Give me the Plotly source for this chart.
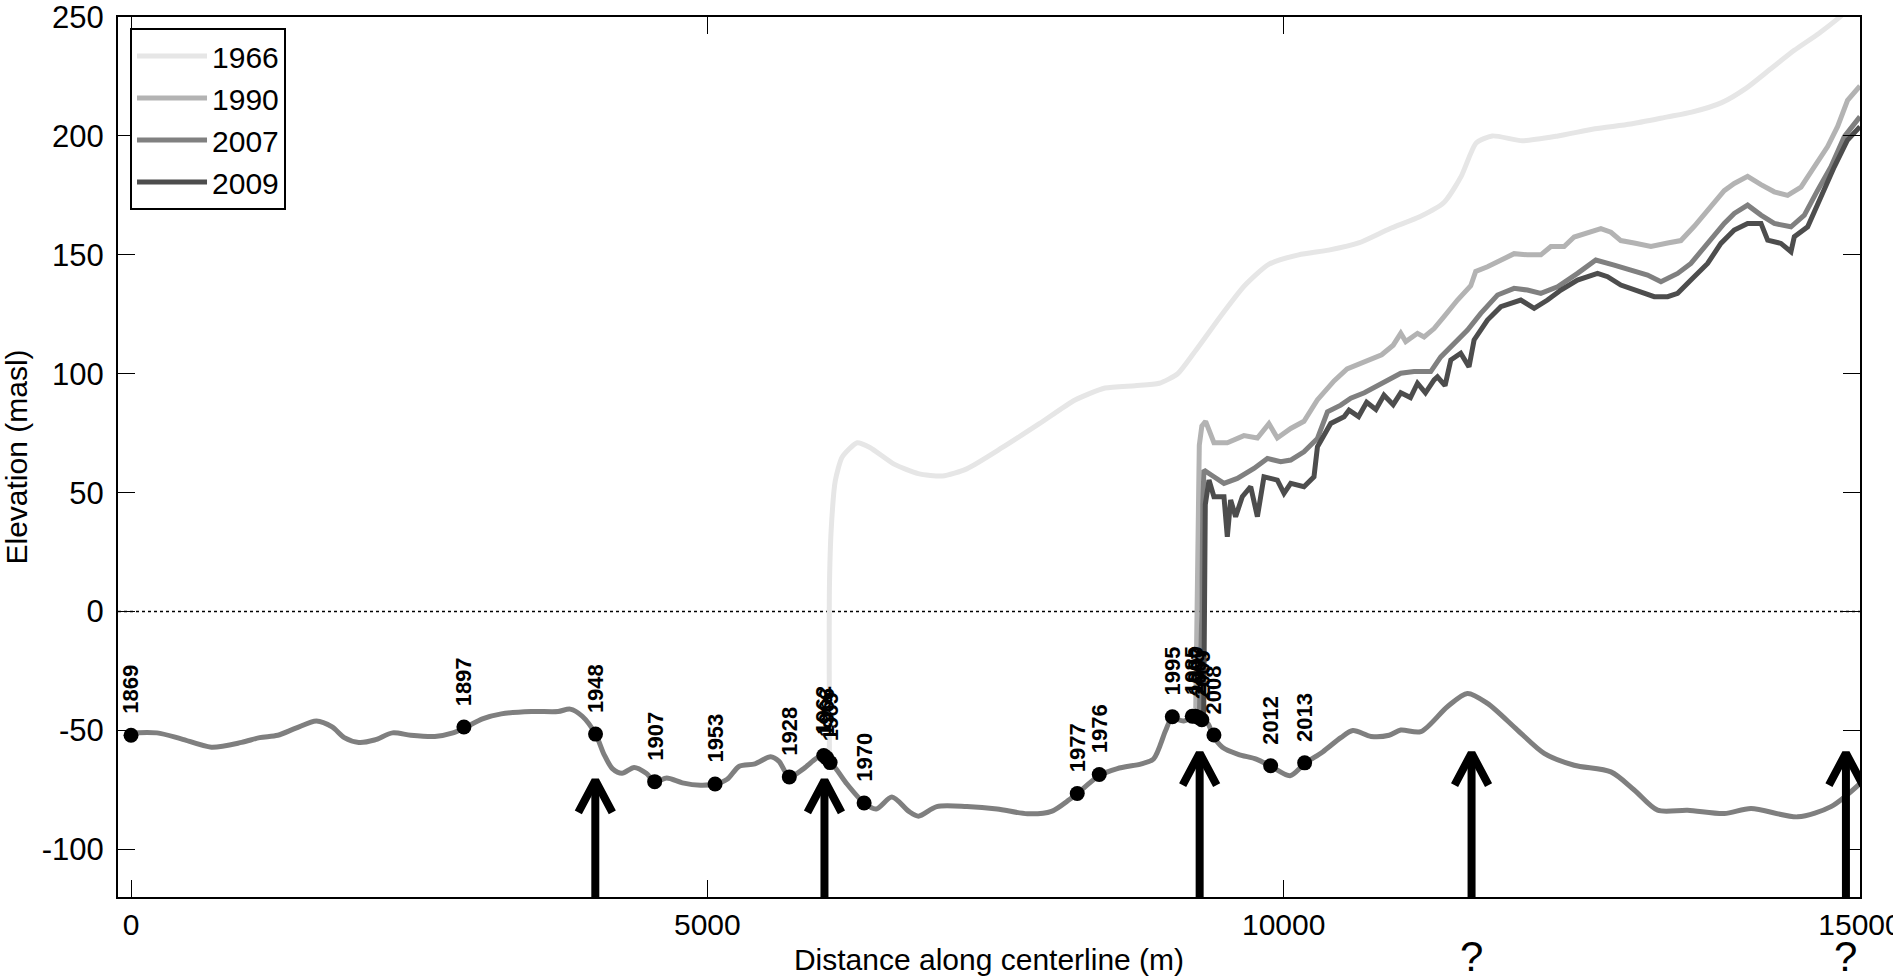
import plotly.graph_objects as go

# ---------------- data ----------------
bed_x = [0, 226, 435, 697, 959, 1116, 1273, 1430, 1609, 1745, 1850, 1976, 2112, 2269, 2426, 2636,
         2793, 2888, 3055, 3212, 3474, 3705, 3810, 3915, 4030, 4103, 4176, 4260, 4365, 4470, 4543,
         4648, 4784, 4941, 5067, 5172, 5277, 5413, 5549, 5622, 5711, 5836, 5993, 6098, 6203, 6360,
         6465, 6601, 6748, 6832, 6990, 7252, 7514, 7776, 7985, 8142, 8209, 8400, 8557, 8766, 8871,
         8976, 9028, 9133, 9238, 9342, 9385, 9468, 9605, 9762, 9888, 10055, 10181, 10338, 10496,
         10600, 10758, 10915, 11016, 11189, 11420, 11594, 11768, 12028, 12260, 12520, 12839, 13041,
         13244, 13504, 13822, 14054, 14459, 14748, 15000]
bed_y = [-51, -51, -53.5, -57, -55, -53, -52, -49, -46, -48.5, -53, -55, -54, -51, -52, -52.5,
         -51, -49, -45, -43, -42, -42, -41, -44, -51.5, -60, -66, -68, -65.5, -68, -71.5,
         -70, -72, -73, -72.5, -70.5, -65, -64, -61, -63, -69.5, -66, -60.5, -65, -72, -80.5,
         -83, -78, -84, -86, -82, -82, -83, -85, -84, -79, -76.5, -69, -66, -64, -62,
         -50, -45, -46, -44, -47, -52, -57, -60, -62, -65, -69, -64, -59, -53,
         -50, -52.5, -52, -49.8, -50.5, -40, -34.4, -38.6, -49.8, -59.6, -64.6, -67.4, -75,
         -83.5, -83.5, -84.9, -82.8, -86.3, -82, -72.3]

x1966 = [6059, 6059, 6075, 6110, 6170, 6300, 6410, 6620, 6830, 7040, 7250, 7560, 7880, 8190, 8450,
         8710, 8920, 9080, 9240, 9450, 9660, 9870, 10130, 10390, 10650, 10920, 11180, 11390, 11540,
         11670, 11810, 12070, 12380, 12700, 13010, 13330, 13540, 13800, 14010, 14220, 14430, 14640,
         14800, 14870]
y1966 = [-60, 10, 35, 55, 65, 71, 69, 62, 58, 57, 60, 69, 79, 89, 94, 95, 96, 100, 110, 124, 137,
         146, 150, 152, 155, 161, 166, 172, 183, 197, 200, 198, 200, 203, 205, 208, 210, 214, 220,
         228, 236, 243, 249, 252]

x1990 = [9236, 9250, 9262, 9268, 9290, 9323, 9395, 9511, 9655, 9772, 9872, 9945, 10061, 10176,
         10292, 10437, 10550, 10700, 10850, 10950, 11016, 11059, 11161, 11218, 11305, 11391, 11508,
         11623, 11666, 11768, 11884, 11999, 12115, 12231, 12318, 12433, 12520, 12636, 12752, 12839,
         12925, 13041, 13186, 13331, 13446, 13562, 13678, 13822, 13909, 14025, 14141, 14256, 14372,
         14488, 14603, 14719, 14806, 14892, 15000]
y1990 = [-45, 10, 40, 70, 78, 80, 71, 71, 74, 73, 79, 73, 77, 80, 89, 97, 102, 105, 108, 112, 117,
         113.5, 117, 115.5, 119, 124, 131, 137, 143, 145, 148, 150.5, 150, 150, 153.5, 153.5, 157.5,
         159.5, 161, 159.5, 156, 155, 153.5, 155, 156, 162, 169, 177, 180, 183, 179.5, 176.5, 175,
         178.5, 187, 195.5, 204, 215, 221]

x2007 = [9268, 9290, 9298, 9308, 9395, 9482, 9598, 9742, 9859, 9974, 10061, 10176, 10293, 10380,
         10495, 10582, 10700, 10850, 11016, 11131, 11276, 11363, 11479, 11595, 11710, 11855, 11999,
         12115, 12231, 12376, 12549, 12708, 12867, 13041, 13157, 13273, 13418, 13533, 13678, 13822,
         13909, 14025, 14141, 14256, 14401, 14517, 14633, 14748, 14864, 15000]
y2007 = [-45, 0, 45, 59.5, 56.7, 53.9, 56, 60.2, 64.4, 63, 63.7, 67.2, 72.8, 84, 86.8, 89.7, 92, 96,
         100.2, 100.9, 100.9, 107.1, 112.8, 118.4, 125.4, 133.1, 135.9, 135.2, 133.8, 136.6, 142.2,
         147.8, 145.7, 142.9, 141.5, 138.7, 142.2, 146.4, 154.8, 163.2, 167.4, 170.9, 166.7, 163.2,
         161.8, 166.7, 177.2, 187, 199.7, 208.1]

x2009 = [9306, 9315, 9320, 9352, 9395, 9482, 9511, 9540, 9583, 9641, 9714, 9772, 9829, 9945, 10003,
         10061, 10176, 10263, 10293, 10408, 10524, 10567, 10650, 10720, 10800, 10870, 10950, 11016,
         11100, 11161, 11230, 11305, 11334, 11400, 11450, 11536, 11608, 11652, 11768, 11884, 12057,
         12173, 12289, 12405, 12549, 12723, 12810, 12925, 13041, 13215, 13331, 13418, 13533, 13678,
         13793, 13909, 14025, 14141, 14199, 14314, 14401, 14430, 14546, 14661, 14777, 14892, 15000]
y2009 = [-45, 0, 45, 55.3, 48.3, 48.3, 31.5, 46.9, 39.9, 48.3, 52.5, 39.9, 56.7, 55.3, 49.7, 53.9,
         52.5, 56.7, 69.3, 79.1, 81.9, 84.7, 82, 88, 85, 91, 87, 92, 90, 96, 92, 97.4, 98.7, 95,
         105.8, 108.6, 102.9, 114.2, 122.6, 128.2, 131, 127.5, 131, 135.2, 139.4, 142.2, 140.8,
         137.3, 135.2, 132.4, 132.4, 133.8, 139.4, 146.4, 154.8, 160.4, 163.2, 163.2, 156.2, 154.8,
         151.3, 157.6, 161.8, 174.4, 187, 198.3, 203.9]

front_years = ["1869", "1897", "1948", "1907", "1953", "1928", "1962", "1966", "1969", "1970",
               "1977", "1976", "1995", "1985", "1990", "2007", "2009", "2008", "2012", "2013"]
front_x = [0, 2888, 4030, 4543, 5067, 5711, 6010, 6035, 6065, 6360,
           8209, 8400, 9034, 9207, 9235, 9262, 9290, 9395, 9887, 10182]
front_y = [-52, -48.5, -51.5, -71.5, -72.5, -69.5, -60.5, -61.5, -63.5, -80.5,
           -76.5, -68.5, -44.2, -44, -44, -44.5, -45.5, -51.9, -64.8, -63.6]

arrow_x = [4028, 6016, 9271, 11630, 14878]
arrow_tip = [-71, -71, -59.5, -59.5, -59.5]
question_x = [11630, 14878]
question_text = ["?", "?"]

series_names = ["1966", "1990", "2007", "2009"]
series_colors = ["#e6e6e6", "#b3b3b3", "#808080", "#4d4d4d"]
series_shapes = ["spline", "linear", "linear", "linear"]

ytick_vals = [-100, -50, 0, 50, 100, 150, 200, 250]
ytick_text = ["-100", "-50", "0", "50", "100", "150", "200", "250"]
xtick_vals = [0, 5000, 10000, 15000]
xtick_text = ["0", "5000", "10000", "15000"]

# ---------------- layout geometry ----------------
W, H = 1893, 980
ML, MR, MT, MB = 118, 33, 17, 83
XR = [-113, 15000]
YR = [-120, 250]
FONT = "Liberation Sans, Arial, Helvetica, sans-serif"

fig = go.Figure()

for name, col, shp, xs, ys in zip(series_names, series_colors, series_shapes,
                                  [x1966, x1990, x2007, x2009], [y1966, y1990, y2007, y2009]):
    fig.add_trace(go.Scatter(x=xs, y=ys, mode="lines", name=name,
                             line=dict(color=col, width=5, shape=shp, smoothing=0.6)))

fig.add_trace(go.Scatter(x=bed_x, y=bed_y, mode="lines", showlegend=False,
                         line=dict(color="#7f7f7f", width=5, shape="spline", smoothing=0.8)))

fig.add_trace(go.Scatter(x=front_x, y=front_y, mode="markers", showlegend=False,
                         marker=dict(color="black", size=15)))

# arrows: shaft + open chevron head, head size given in pixels and converted via axis scale
px_x = (XR[1] - XR[0]) / (W - ML - MR)
px_y = (YR[1] - YR[0]) / (H - MT - MB)
head_half_w, head_len = 17, 32
ax_pts, ay_pts = [], []
for xa, ya in zip(arrow_x, arrow_tip):
    ax_pts += [xa, xa, None, xa - head_half_w * px_x, xa, xa + head_half_w * px_x, None]
    ay_pts += [YR[0], ya - 2 * px_y, None, ya - head_len * px_y, ya, ya - head_len * px_y, None]
fig.add_trace(go.Scatter(x=ax_pts, y=ay_pts, mode="lines", showlegend=False,
                         line=dict(color="black", width=8), cliponaxis=False))

annotations = []
for yr, xv, yv in zip(front_years, front_x, front_y):
    annotations.append(dict(x=xv, y=yv, xref="x", yref="y", text="<b>%s</b>" % yr,
                            textangle=-90, showarrow=False, xanchor="center", yanchor="bottom",
                            yshift=19, font=dict(family=FONT, size=22, color="black")))
for xv, t in zip(question_x, question_text):
    annotations.append(dict(x=xv, y=-0.068, xref="x", yref="paper", text=t, showarrow=False,
                            xanchor="center", yanchor="middle",
                            font=dict(family=FONT, size=42, color="black")))

fig.update_layout(
    width=W, height=H,
    margin=dict(l=ML, r=MR, t=MT, b=MB, autoexpand=False),
    paper_bgcolor="white", plot_bgcolor="white",
    font=dict(family=FONT, color="black"),
    showlegend=True,
    legend=dict(x=0.0069, y=0.9875, xanchor="left", yanchor="top",
                bgcolor="white", bordercolor="black", borderwidth=2,
                font=dict(family=FONT, size=30, color="black"),
                itemwidth=70, tracegroupgap=0),
    annotations=annotations,
    shapes=[dict(type="line", xref="paper", yref="y", x0=0, x1=1, y0=0, y1=0,
                 line=dict(color="black", width=1.5, dash="dot"), layer="below")],
)
fig.update_xaxes(range=XR, tickvals=xtick_vals, ticktext=xtick_text, automargin=False,
                 showgrid=False, zeroline=False, showline=True, linecolor="black", linewidth=2,
                 mirror="ticks", ticks="inside", ticklen=17, tickwidth=1, tickcolor="black",
                 tickfont=dict(family=FONT, size=30, color="black"), ticklabelstandoff=0,
                 ticklabeloverflow="allow",
                 title=dict(text="Distance along centerline (m)", standoff=9,
                            font=dict(family=FONT, size=30, color="black")))
fig.update_yaxes(range=YR, tickvals=ytick_vals, ticktext=ytick_text, automargin=False,
                 showgrid=False, zeroline=False, showline=True, linecolor="black", linewidth=2,
                 mirror="ticks", ticks="inside", ticklen=17, tickwidth=1, tickcolor="black",
                 tickfont=dict(family=FONT, size=31, color="black"), ticklabelstandoff=6,
                 ticklabeloverflow="allow",
                 title=dict(text="Elevation (masl)", standoff=14,
                            font=dict(family=FONT, size=30, color="black")))

fig.write_html("out.html")
